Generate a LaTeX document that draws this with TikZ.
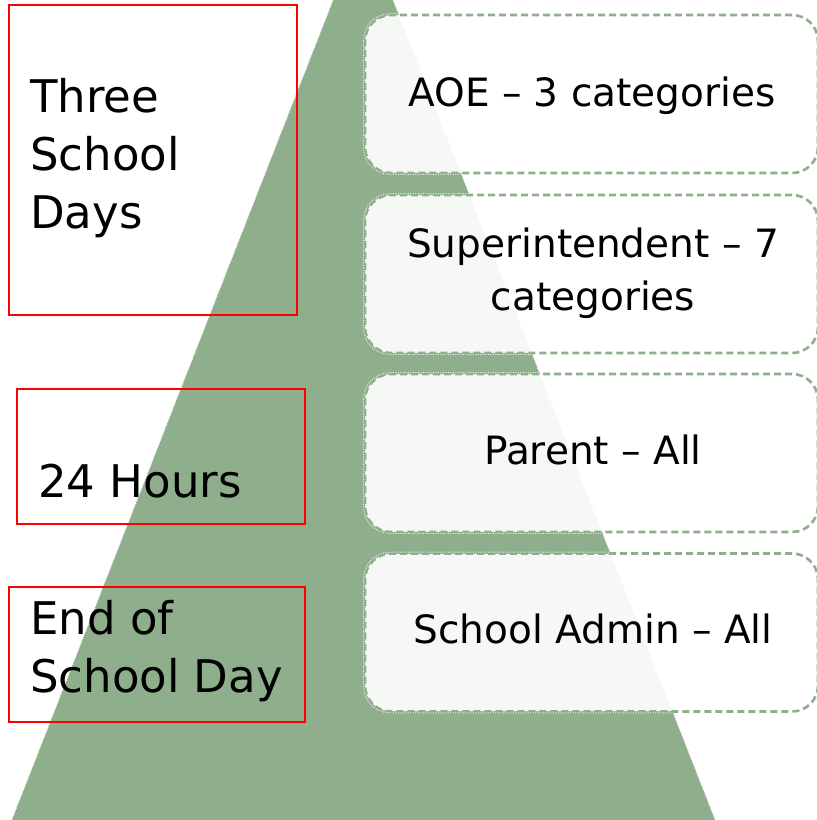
\documentclass[tikz,border=0pt]{standalone}
\usepackage{fontspec}
\setmainfont{DejaVu Sans}
\usetikzlibrary{calc}
\definecolor{pyrgreen}{RGB}{143,174,139}
\definecolor{boxred}{RGB}{255,0,0}
\tikzset{
  tierbox/.style={rectangle, rounded corners=26pt, inner sep=0pt,
    minimum width=453pt, minimum height=158pt,
    fill=white, fill opacity=0.92,
    draw=pyrgreen, draw opacity=1, line width=2.6pt, dash pattern=on 7pt off 4pt},
  tiertext/.style={inner sep=0pt, align=center, anchor=base,
    font=\fontsize{39}{53}\selectfont, text=black},
  timebox/.style={rectangle, draw=boxred, line width=2pt, inner sep=0pt},
  timetext/.style={inner sep=0pt, align=left, anchor=base west,
    font=\fontsize{45}{58}\selectfont, text=black},
}
\begin{document}
\begin{tikzpicture}[x=1pt, y=-1pt]
\useasboundingbox (0,0) rectangle (817,820);
\clip (0,0) rectangle (817,820);

% pyramid
\coordinate (apex) at (363,-76.5);
\coordinate (baseL) at (-6,865);
\coordinate (baseR) at (733,865);
\fill[pyrgreen] (apex) -- (baseL) -- (baseR) -- cycle;
\draw[white, line width=1pt, dash pattern=on 1pt off 1.5pt] (apex) -- (baseL) (apex) -- (baseR);

% tiers on the right
\node[tierbox] (b1) at (591.5,94) {};
\node[tierbox] (b2) at (591.5,274) {};
\node[tierbox] (b3) at (591.5,453) {};
\node[tierbox] (b4) at (591.5,632.5) {};

% inside the pyramid the tier outlines show as light dots
\begin{scope}
  \clip (apex) -- (baseL) -- (baseR) -- cycle;
  \foreach \b in {b1,b2,b3,b4}{
    \draw[pyrgreen, line width=2.8pt, rounded corners=26pt]
      (\b.south west) rectangle (\b.north east);
    \draw[white, opacity=0.85, line width=1pt, dash pattern=on 1pt off 1.5pt, rounded corners=26pt]
      (\b.south west) rectangle (\b.north east);
  }
\end{scope}

\node[tiertext] (t1) at (592,106) {AOE – 3 categories};
\node[tiertext] (t2) at (593,310) {Superintendent – 7\\categories};
\node[tiertext] (t3) at (593,464) {Parent – All};
\node[tiertext] (t4) at (593,643) {School Admin – All};

% time limits on the left
\node[timebox, minimum width=288pt, minimum height=310pt] (r1) at (153,160) {};
\node[timebox, minimum width=288pt, minimum height=135pt] (r2) at (161,456.5) {};
\node[timebox, minimum width=296pt, minimum height=135pt] (r3) at (157,654.5) {};

\node[timetext] (l1) at (30,228) {Three\\School\\Days};
\node[timetext] (l2) at (38,497) {24 Hours};
\node[timetext] (l3) at (30,692) {End of\\School Day};
\end{tikzpicture}
\end{document}
